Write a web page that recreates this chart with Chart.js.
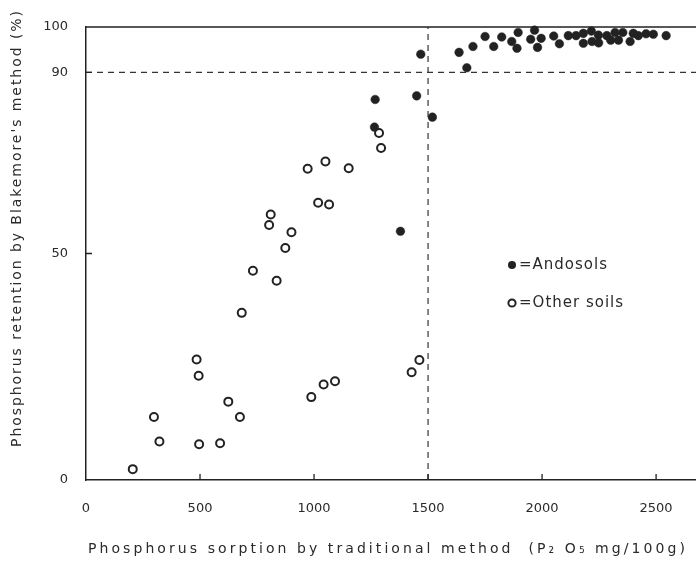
<!DOCTYPE html>
<html>
<head>
<meta charset="utf-8">
<script src="https://cdn.jsdelivr.net/npm/chart.js@4/dist/chart.umd.min.js"></script>
<style>
  html, body { margin: 0; padding: 0; background: #fff; }
  #wrap { width: 696px; height: 564px; }
</style>
</head>
<body>
<div id="wrap"><canvas id="PChart" width="696" height="564"></canvas></div>
<script>
var xTicks = [0, 500, 1000, 1500, 2000, 2500];
var yTicks = [0, 50, 90, 100];

// filled circles
var andosolX = [1268, 1265, 1379, 1450, 1468, 1519, 1636, 1670, 1697, 1750, 1788, 1823, 1867, 1890, 1895, 1950, 1967, 1980, 1996, 2051,
                2076, 2115, 2149, 2181, 2181, 2216, 2219, 2247, 2248, 2284, 2301, 2320, 2335, 2354, 2386, 2400, 2422, 2456, 2488, 2544];
var andosolY = [84.0, 77.9, 54.9, 84.8, 94.0, 80.1, 94.4, 91.0, 95.7, 97.9, 95.7, 97.8, 96.8, 95.3, 98.8, 97.3, 99.3, 95.5, 97.5, 98.0,
                96.3, 98.1, 98.1, 98.6, 96.4, 99.1, 96.8, 98.2, 96.5, 98.1, 97.1, 98.8, 97.1, 98.8, 96.8, 98.6, 98.1, 98.5, 98.4, 98.1];

// open circles
var otherX = [205, 298, 322, 485, 494, 496, 588, 624, 675, 683, 732, 803, 810, 836, 874, 901, 972, 988, 1018, 1042,
              1050, 1066, 1092, 1152, 1285, 1294, 1428, 1462];
var otherY = [2.4, 13.9, 8.5, 26.6, 23.0, 7.9, 8.1, 17.3, 13.9, 36.9, 46.2, 56.3, 58.6, 44.0, 51.2, 54.7, 68.7, 18.3, 61.2, 21.1,
              70.3, 60.8, 21.8, 68.8, 76.6, 73.3, 23.8, 26.5];

var xLimit = [0, 2675];
var yLimit = [0, 100];
var retentionLine = 90;
var sorptionLine = 1500;

var xTitle = 'Phosphorus sorption by traditional method  (P\u2082 O\u2085 mg/100g)';
var yTitle = "Phosphorus retention by Blakemore's method (%)";
var legendText = ['=Andosols', '=Other soils'];

function toPoints(xs, ys) {
  return xs.map(function(x, i) { return { x: x, y: ys[i] }; });
}

var txtColor = '#2a2a2a';
var fontFam = '"DejaVu Sans", sans-serif';

// spread a string so it fills a given length (the scan has very loose letter spacing)
function spreadText(ctx, text, x, y, len) {
  ctx.letterSpacing = '0px';
  var w = ctx.measureText(text).width;
  var sp = Math.max(0, (len - w) / text.length);
  ctx.letterSpacing = sp.toFixed(2) + 'px';
  ctx.textAlign = 'left';
  ctx.fillText(text, x, y);
  ctx.letterSpacing = '0px';
}

// frame top line, inward ticks, titles and the little legend inside the plot
var extras = {
  id: 'extras',
  afterDraw: function(chart) {
    var ctx = chart.ctx, a = chart.chartArea;
    var xs = chart.scales.x, ys = chart.scales.y;
    ctx.save();
    ctx.strokeStyle = '#222';
    ctx.lineWidth = 1.3;
    ctx.beginPath();
    ctx.moveTo(a.left, ys.getPixelForValue(100));
    ctx.lineTo(a.right, ys.getPixelForValue(100));
    xTicks.forEach(function(v) {
      if (v === 0) return;
      var px = xs.getPixelForValue(v);
      ctx.moveTo(px, a.bottom);
      ctx.lineTo(px, a.bottom - 6);
    });
    yTicks.forEach(function(v) {
      if (v === 0 || v === 100) return;
      var py = ys.getPixelForValue(v);
      ctx.moveTo(a.left, py);
      ctx.lineTo(a.left + 6, py);
    });
    ctx.stroke();

    // titles
    ctx.fillStyle = txtColor;
    ctx.font = '14px ' + fontFam;
    ctx.textBaseline = 'middle';
    spreadText(ctx, xTitle, 88, 549, 600);
    ctx.save();
    ctx.translate(17, 447);
    ctx.rotate(-Math.PI / 2);
    spreadText(ctx, yTitle, 0, 0, 438);
    ctx.restore();

    // legend
    ctx.fillStyle = '#222';
    ctx.beginPath();
    ctx.arc(512, 265, 4, 0, Math.PI * 2);
    ctx.fill();
    ctx.lineWidth = 2;
    ctx.fillStyle = '#fff';
    ctx.beginPath();
    ctx.arc(512, 303, 3.6, 0, Math.PI * 2);
    ctx.fill();
    ctx.stroke();
    ctx.fillStyle = txtColor;
    ctx.font = '15px ' + fontFam;
    ctx.textBaseline = 'middle';
    ctx.letterSpacing = '1px';
    ctx.fillText(legendText[0], 519, 265);
    ctx.fillText(legendText[1], 519, 303);
    ctx.restore();
  }
};

new Chart(document.getElementById('PChart'), {
  type: 'scatter',
  data: {
    datasets: [
      {
        label: 'Andosols',
        data: toPoints(andosolX, andosolY),
        pointRadius: 4.3,
        pointBackgroundColor: '#222',
        pointBorderColor: '#222',
        pointBorderWidth: 0.5,
        clip: false
      },
      {
        label: 'Other soils',
        data: toPoints(otherX, otherY),
        pointRadius: 4,
        pointBackgroundColor: '#fff',
        pointBorderColor: '#222',
        pointBorderWidth: 2,
        clip: false
      },
      {
        type: 'line',
        label: '90%',
        data: [{ x: xLimit[0], y: retentionLine }, { x: xLimit[1], y: retentionLine }],
        borderColor: '#333',
        borderWidth: 1.2,
        borderDash: [6, 5],
        pointRadius: 0
      },
      {
        type: 'line',
        label: '1500',
        data: [{ x: sorptionLine, y: yLimit[0] }, { x: sorptionLine, y: yLimit[1] }],
        borderColor: '#333',
        borderWidth: 1.2,
        borderDash: [6, 5],
        pointRadius: 0
      }
    ]
  },
  options: {
    responsive: false,
    animation: false,
    layout: { autoPadding: false, padding: { top: 27, right: 0, left: 0, bottom: 0 } },
    plugins: {
      legend: { display: false },
      tooltip: { enabled: false }
    },
    scales: {
      x: {
        type: 'linear',
        min: xLimit[0],
        max: xLimit[1],
        afterBuildTicks: function(s) { s.ticks = xTicks.map(function(v) { return { value: v }; }); },
        afterFit: function(s) { s.height = 84; },
        grid: { display: false, drawTicks: false },
        border: { display: true, color: '#222', width: 1.5 },
        ticks: {
          color: txtColor, font: { family: fontFam, size: 13 }, padding: 21, maxRotation: 0,
          callback: function(v) { return String(v); }
        }
      },
      y: {
        type: 'linear',
        min: yLimit[0],
        max: yLimit[1],
        afterBuildTicks: function(s) { s.ticks = yTicks.map(function(v) { return { value: v }; }); },
        afterFit: function(s) { s.width = 86; },
        grid: { display: false, drawTicks: false },
        border: { display: true, color: '#222', width: 1.5 },
        ticks: { color: txtColor, font: { family: fontFam, size: 13 }, padding: 18 }
      }
    }
  },
  plugins: [extras]
});
</script>
</body>
</html>
